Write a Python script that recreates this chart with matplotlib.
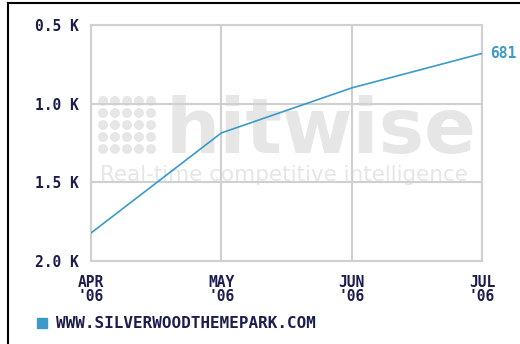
import matplotlib
matplotlib.use("Agg")
import matplotlib.pyplot as plt
from matplotlib.patches import Rectangle, Ellipse
from matplotlib.lines import Line2D

# ── data ───────────────────────────────────────────────────────────────────
MONTHS = ["APR\n'06", "MAY\n'06", "JUN\n'06", "JUL\n'06"]
RANK = [1822, 1186, 900, 681]
Y_TICKS = [500, 1000, 1500, 2000]
Y_LABELS = ["0.5 K", "1.0 K", "1.5 K", "2.0 K"]
SITE = "WWW.SILVERWOODTHEMEPARK.COM"

# ── style ──────────────────────────────────────────────────────────────────
LINE = "#3a9acb"
INK = "#1c1c4e"
GRID = "#d0d0d0"
MARK = "#e6e6e6"
FONT = "DejaVu Sans Mono"

W, H = 520, 344
fig = plt.figure(figsize=(W / 100, H / 100), dpi=100)
fig.patch.set_facecolor("white")

ax = fig.add_axes([91 / W, 83 / H, 391 / W, 236 / H])
ax.set_zorder(1)
ax.patch.set_alpha(0)

# watermark behind the chart
for i in range(5):
    for j in range(5):
        fig.patches.append(Ellipse(((103 + 12 * i) / W, 1 - (101 + 12 * j) / H),
                                   8.5 / W, 8.5 / H, transform=fig.transFigure,
                                   color=MARK, zorder=0.5))
fig.text(166 / W, 1 - 153 / H, "hitwise", fontsize=55, fontweight="bold",
         color=MARK, family="DejaVu Sans", ha="left", va="baseline", zorder=0.5)
fig.text(100 / W, 1 - 181 / H, "Real-time competitive intelligence", fontsize=15.5,
         color=MARK, family="DejaVu Sans", ha="left", va="baseline", zorder=0.5)

x = list(range(len(MONTHS)))
ax.plot(x, RANK, color=LINE, linewidth=1.2, zorder=3)
ax.text(x[-1] + 0.06, RANK[-1], f"{RANK[-1]}", color=LINE, fontsize=10.5,
        family=FONT, fontweight="bold", ha="left", va="center")

ax.set_xlim(0, len(MONTHS) - 1)
ax.set_ylim(2000, 500)
ax.set_xticks(x)
ax.set_xticklabels(MONTHS, family=FONT, fontweight="bold", fontsize=10.5,
                   color=INK, linespacing=0.9)
ax.set_yticks(Y_TICKS)
ax.set_yticklabels(Y_LABELS, family=FONT, fontweight="bold", fontsize=10.5,
                   color=INK)
ax.tick_params(axis="y", length=0, pad=8.5)
ax.tick_params(axis="x", length=0, pad=10)
ax.grid(True, color=GRID, linewidth=1.5)
for s in ax.spines.values():
    s.set_color(GRID)
    s.set_linewidth(1.5)

# legend
fig.patches.append(Rectangle((37 / W, 1 - 328 / H), 10 / W, 10 / H,
                             transform=fig.transFigure, color=LINE))
fig.text(56 / W, 1 - 323 / H, SITE, family=FONT, fontweight="bold",
         fontsize=11.5, color=INK, ha="left", va="center")

# outer frame (top and left edges)
fig.add_artist(Line2D([8 / W, 1], [1 - 3 / H, 1 - 3 / H],
                      transform=fig.transFigure, color="black", linewidth=1.5))
fig.add_artist(Line2D([8 / W, 8 / W], [0, 1 - 3 / H],
                      transform=fig.transFigure, color="black", linewidth=1.5))

fig.savefig("out.png", dpi=100, facecolor="white")
